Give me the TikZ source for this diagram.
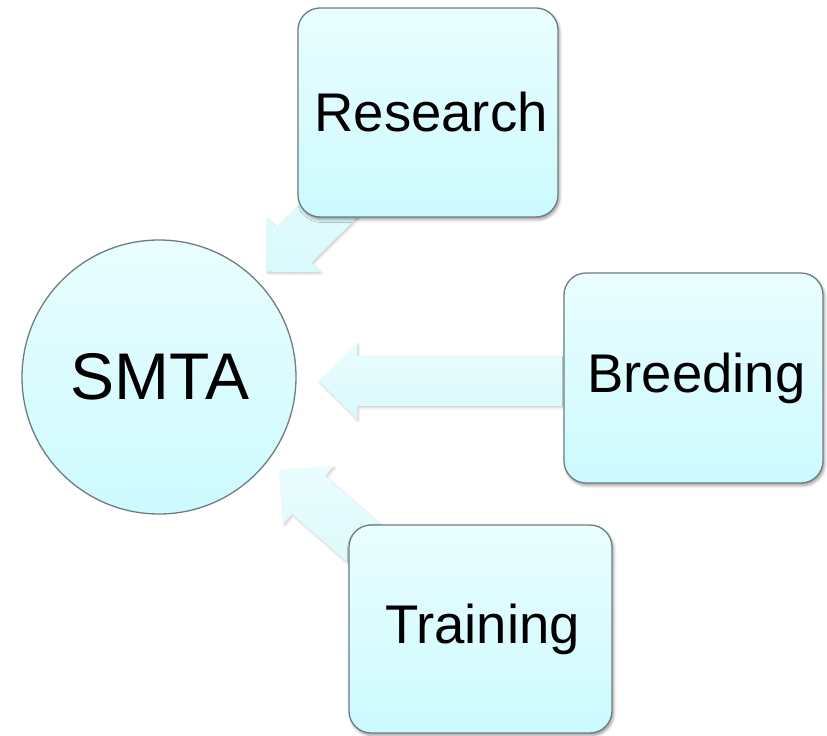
\documentclass[tikz,border=0pt]{standalone}
\usepackage{fontspec}
\setmainfont{Liberation Sans}
\usetikzlibrary{calc,shadows.blur}
\pgfdeclarelayer{background}
\pgfsetlayers{background,main}
\definecolor{boxtop}{RGB}{234,254,255}
\definecolor{boxbot}{RGB}{204,250,254}
\definecolor{edgegray}{RGB}{110,125,125}
\definecolor{arrowtop}{RGB}{234,253,254}
\definecolor{arrowbot}{RGB}{218,249,252}
\tikzset{
  boxnode/.style={draw=edgegray, line width=1.3pt, rounded corners=22pt,
    top color=boxtop, bottom color=boxbot, inner sep=0pt,
    font=\fontsize{54.5}{60}\selectfont,
    blur shadow={shadow xshift=1.5pt, shadow yshift=-2.5pt, shadow blur radius=3pt, shadow opacity=40}},
  hubnode/.style={circle, draw=edgegray, line width=1.3pt,
    top color=boxtop, bottom color=boxbot, inner sep=0pt,
    minimum size=274pt, font=\fontsize{66}{70}\selectfont},
  fatarrowstyle/.style={top color=arrowtop, bottom color=arrowbot,
    blur shadow={shadow xshift=1pt, shadow yshift=-1.5pt, shadow blur radius=2.5pt, shadow opacity=22}}
}
\newcommand{\fatarrow}[2]{%
  \coordinate (fab) at ($(#1)!38pt!(#2)$);
  \path[fatarrowstyle] (#1) -- ($(fab)!38pt!90:(#2)$) -- ($(fab)!25pt!90:(#2)$)
    -- ($(#2)!25pt!-90:(fab)$) -- ($(#2)!25pt!90:(fab)$)
    -- ($(fab)!25pt!-90:(#2)$) -- ($(fab)!38pt!-90:(#2)$) -- cycle;
}
\begin{document}
\begin{tikzpicture}[x=1pt,y=-1pt]
\useasboundingbox (0,0) rectangle (827,736);
\node[hubnode] (smta) at (159,377) {\hspace{2pt}SMTA};
\node[boxnode, minimum width=260pt, minimum height=209pt] (research) at (428,112.5) {\hspace{6pt}Research};
\node[boxnode, minimum width=259pt, minimum height=210pt] (breeding) at (693.5,378) {\hspace{6pt}Breeding};
\node[boxnode, minimum width=263pt, minimum height=208pt] (training) at (480.5,629) {\hspace{4pt}Training};
\coordinate (rtip) at (266.7,271.7);
\coordinate (btip) at (319,381);
\coordinate (btail) at (640,381);
\coordinate (ttip) at (280,470);
\coordinate (ttail) at (400,575);
\begin{pgfonlayer}{background}
  \fatarrow{rtip}{research.center}
  \fatarrow{btip}{btail}
  \fatarrow{ttip}{ttail}
\end{pgfonlayer}
\end{tikzpicture}
\end{document}
